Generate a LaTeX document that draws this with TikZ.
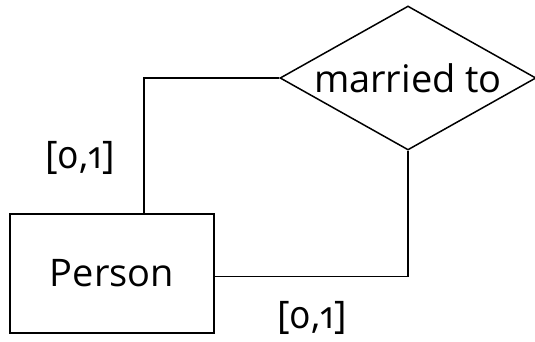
\documentclass[tikz,border=0pt]{standalone}
\usepackage{fontspec}
\setmainfont[Numbers=OldStyle]{Open Sans}
\usetikzlibrary{shapes.geometric}
\begin{document}
\begin{tikzpicture}
    [
    x=1pt,y=-1pt,
    every node/.style={font=\fontsize{38}{46}\selectfont},
    entity/.style={rectangle,draw,line width=1.5pt,inner sep=0pt,minimum width=204pt,minimum height=119pt},
    relation/.style={diamond,draw,line width=1.5pt,inner sep=0pt,aspect=1.9,minimum width=256pt,minimum height=144pt},
    link/.style={line width=1.5pt}
    ]
    \useasboundingbox (0,0) rectangle (535,341);
    \node (person) at (112,273.5) [entity] {Person};
    \node (married) at (408,78) [relation] {married to};
    \node (card1) at (80,158) {[0,1]};
    \node (card2) at (312,318) {[0,1]};
    \coordinate (top) at (144,0);
    \draw [link] (person.north -| top) |- (married.west);
    \draw [link] (married.south) |- ([yshift=-3pt]person.east);
  \end{tikzpicture}
\end{document}
